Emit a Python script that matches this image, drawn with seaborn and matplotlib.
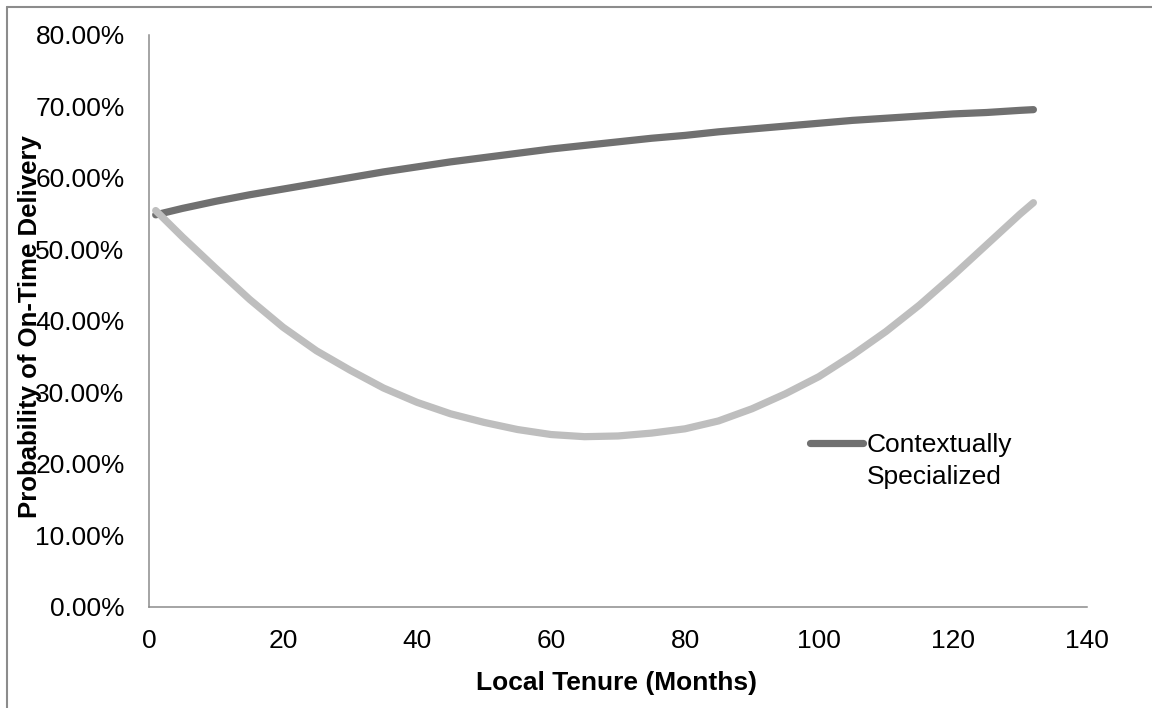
import matplotlib
matplotlib.use("Agg")
import matplotlib.pyplot as plt
from matplotlib.lines import Line2D
from matplotlib.ticker import FuncFormatter, MultipleLocator
import seaborn as sns
import pandas as pd

# ---- data ----
months = [1, 5, 10, 15, 20, 25, 30, 35, 40, 45, 50, 55, 60, 65, 70, 75, 80,
          85, 90, 95, 100, 105, 110, 115, 120, 125, 130, 132]
specialized = [54.8, 55.7, 56.7, 57.6, 58.4, 59.2, 60.0, 60.8, 61.5, 62.2,
               62.8, 63.4, 64.0, 64.5, 65.0, 65.5, 65.9, 66.4, 66.8, 67.2,
               67.6, 68.0, 68.3, 68.6, 68.9, 69.1, 69.4, 69.5]
other = [55.4, 51.7, 47.3, 43.0, 39.1, 35.8, 33.1, 30.6, 28.6, 27.0,
         25.8, 24.8, 24.1, 23.8, 23.9, 24.3, 24.9, 26.0, 27.7, 29.8,
         32.2, 35.2, 38.5, 42.2, 46.3, 50.6, 54.9, 56.5]
series_names = ["Contextually Specialized", "Other"]
legend_lines = ["Contextually", "Specialized"]
x_label = "Local Tenure (Months)"
y_label = "Probability of On-Time Delivery"

df = pd.concat([
    pd.DataFrame({"month": months, "prob": specialized, "series": series_names[0]}),
    pd.DataFrame({"month": months, "prob": other, "series": series_names[1]}),
])

sns.set_style("white")
plt.rcParams["font.family"] = ["Liberation Sans", "DejaVu Sans"]
plt.rcParams["text.color"] = "black"

W, H = 1152, 708
fig = plt.figure(figsize=(W / 100, H / 100), dpi=100)
ax = fig.add_axes([149 / W, 1 - 607 / H, 938 / W, 572.5 / H])

dark, light = "#707070", "#bebebe"
sns.lineplot(data=df, x="month", y="prob", hue="series",
             palette={series_names[0]: dark, series_names[1]: light},
             hue_order=series_names, linewidth=5.2, legend=False, ax=ax,
             solid_capstyle="round", solid_joinstyle="round", sort=True,
             errorbar=None)

ax.set_xlim(0, 140)
ax.set_ylim(0, 80)
ax.xaxis.set_major_locator(MultipleLocator(20))
ax.yaxis.set_major_locator(MultipleLocator(10))
ax.yaxis.set_major_formatter(FuncFormatter(lambda v, p: f"{v:.2f}%"))
ax.set_xlabel("")
ax.set_ylabel("")

spine_c = "#8c8c8c"
for s in ["top", "right"]:
    ax.spines[s].set_visible(False)
for s in ["left", "bottom"]:
    ax.spines[s].set_color(spine_c)
    ax.spines[s].set_linewidth(1.1)
fs = 19
ax.tick_params(axis="both", which="major", direction="out", length=5.5,
               width=1.1, color=spine_c, labelsize=fs, labelcolor="black")
ax.tick_params(axis="y", pad=12)
ax.tick_params(axis="x", pad=10)

fig.text(616 / W, 1 - 690 / H, x_label, ha="center", va="baseline",
         fontsize=fs, fontweight="bold", color="black")
fig.text(30 / W, 1 - 327 / H, y_label, ha="center", va="center",
         rotation=90, fontsize=18.5, fontweight="bold", color="black")

handles = [Line2D([0], [0], color=dark, lw=5.2, solid_capstyle="round"),
           Line2D([0], [0], color="none", lw=0)]
leg = ax.legend(handles, legend_lines, loc="upper left",
                bbox_to_anchor=(810 / W, 1 - 433 / H), bbox_transform=fig.transFigure,
                frameon=False, fontsize=fs, handlelength=2.0, handletextpad=0.15,
                borderpad=0, borderaxespad=0, labelspacing=0.3)
for t in leg.get_texts():
    t.set_color("black")

# chart-area border (left and top visible)
fig.add_artist(Line2D([7 / W, 7 / W], [0, 1 - 7 / H], color=spine_c, lw=1.5,
                      transform=fig.transFigure))
fig.add_artist(Line2D([7 / W, 1], [1 - 7 / H, 1 - 7 / H], color=spine_c, lw=1.5,
                      transform=fig.transFigure))

fig.savefig("out.png", dpi=100)
